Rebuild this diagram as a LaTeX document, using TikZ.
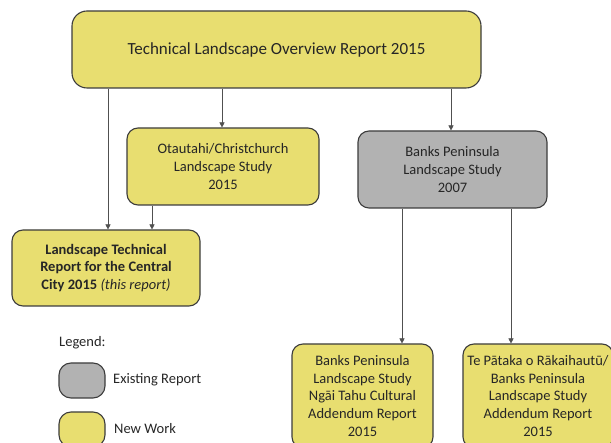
\documentclass[tikz,border=0pt]{standalone}
\usepackage{fontspec}
\setmainfont{Carlito}
\usetikzlibrary{arrows.meta}
\definecolor{boxyellow}{RGB}{232,222,112}
\definecolor{boxgray}{RGB}{178,178,178}
\definecolor{edge}{RGB}{60,60,60}
\definecolor{txt}{RGB}{38,38,38}
\begin{document}
\begin{tikzpicture}[x=1pt,y=-1pt,
  box/.style={draw=edge,line width=1.1pt,rounded corners=11pt,align=center,
    text=txt,inner sep=0pt,font=\fontsize{14.5}{17.7}\selectfont},
  newbox/.style={box,fill=boxyellow},
  oldbox/.style={box,fill=boxgray},
  conn/.style={draw=edge!90,line width=0.6pt,-{Triangle[length=5pt,width=5pt]}},
  lbl/.style={anchor=west,text=txt,inner sep=0pt,font=\fontsize{14.5}{17.7}\selectfont}]
\useasboundingbox (0,0) rectangle (611,443);
\clip (0,0) rectangle (611,443);
\node[newbox,rounded corners=15pt,minimum width=409pt,minimum height=77pt,
  font=\fontsize{17}{20.7}\selectfont] (top) at (276.5,49.5)
  {Technical Landscape Overview Report 2015};
\node[newbox,minimum width=192pt,minimum height=77pt] (ota) at (223,166.5)
  {Otautahi/Christchurch\\Landscape Study\\2015};
\node[oldbox,minimum width=189pt,minimum height=77pt] (bps) at (452.5,169.5)
  {Banks Peninsula\\Landscape Study\\2007};
\node[newbox,minimum width=188pt,minimum height=76pt] (ltr) at (106,268)
  {\textbf{Landscape Technical}\\\textbf{Report for the Central}\\\textbf{City 2015} \textit{(this report)}};
\node[newbox,minimum width=141pt,minimum height=104pt] (ngai) at (362.5,396)
  {Banks Peninsula\\Landscape Study\\Ngāi Tahu Cultural\\Addendum Report\\2015};
\node[newbox,minimum width=150pt,minimum height=104pt] (tep) at (538,396)
  {Te Pātaka o Rākaihautū/\\Banks Peninsula\\Landscape Study\\Addendum Report\\2015};
% connectors
\draw[conn] ([xshift=2pt]ltr.north |- top.south) -- ([xshift=2pt]ltr.north);
\draw[conn] ([xshift=-1pt]ota.north |- top.south) -- ([xshift=-1pt]ota.north);
\draw[conn] ([xshift=-1.5pt]bps.north |- top.south) -- ([xshift=-1.5pt]bps.north);
\draw[conn] ([xshift=46pt]ltr.north |- ota.south) -- ([xshift=46pt]ltr.north);
\draw[conn] ([xshift=39.5pt]ngai.north |- bps.south) -- ([xshift=39.5pt]ngai.north);
\draw[conn] ([xshift=-27pt]tep.north |- bps.south) -- ([xshift=-27pt]tep.north);
% legend
\node[lbl] (leg) at (59,343) {Legend:};
\node[oldbox,rounded corners=12pt,minimum width=46pt,minimum height=35pt] (lgo) at (82,380.5) {};
\node[lbl] (lgot) at (113,380) {Existing Report};
\node[newbox,rounded corners=12pt,minimum width=46pt,minimum height=35pt] (lgn) at (82,429.5) {};
\node[lbl] (lgnt) at (114,429) {New Work};
\end{tikzpicture}
\end{document}
